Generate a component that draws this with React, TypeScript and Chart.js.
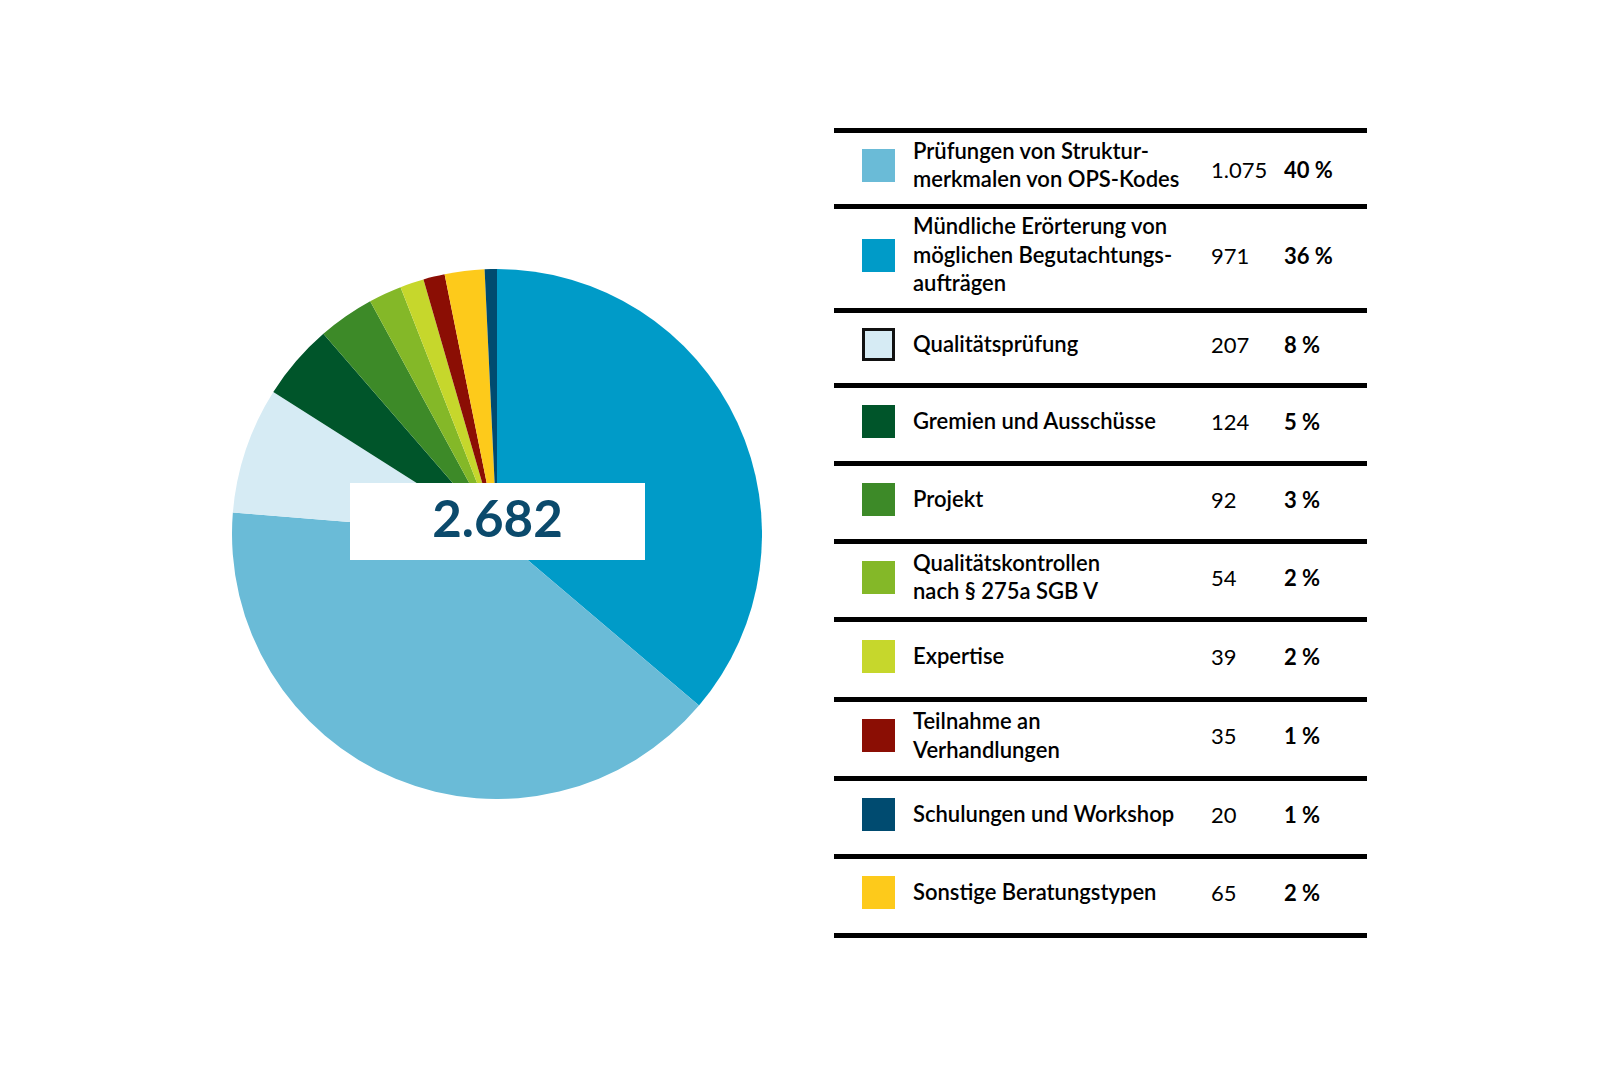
import React, { useEffect, useRef } from "react";
import { Chart, registerables } from "chart.js";

Chart.register(...registerables);

// ---- data (legend order) ----
const categories = [
  "Prüfungen von Struktur-\nmerkmalen von OPS-Kodes",
  "Mündliche Erörterung von\nmöglichen Begutachtungs-\naufträgen",
  "Qualitätsprüfung",
  "Gremien und Ausschüsse",
  "Projekt",
  "Qualitätskontrollen\nnach § 275a SGB V",
  "Expertise",
  "Teilnahme an\nVerhandlungen",
  "Schulungen und Workshop",
  "Sonstige Beratungstypen",
];
const values = [1075, 971, 207, 124, 92, 54, 39, 35, 20, 65];
const percents = [40, 36, 8, 5, 3, 2, 2, 1, 1, 2];
const colors = [
  "#6abbd7",
  "#009bc8",
  "#d6ebf4",
  "#00552a",
  "#3d8a28",
  "#84b828",
  "#c6d72c",
  "#8b0e04",
  "#004b70",
  "#fdca1b",
];
// order of slices in the pie (clockwise from 12 o'clock), as indices into the arrays above
const pieOrder = [1, 0, 2, 3, 4, 5, 6, 7, 9, 8];
const total = 2682;

// ---- layout ----
const ruleYs = [130.6, 206, 310, 385, 463, 541, 619, 699, 778, 856, 935];
const FONT = "Lato, 'Open Sans', sans-serif";

function fmt(n: number): string {
  const s = String(n);
  return s.replace(/\B(?=(\d{3})+(?!\d))/g, ".");
}

export default function App() {
  const canvasRef = useRef<HTMLCanvasElement | null>(null);

  useEffect(() => {
    const cv = canvasRef.current;
    if (!cv) return;
    const chart = new Chart(cv, {
      type: "pie",
      data: {
        labels: pieOrder.map((i) => categories[i]),
        datasets: [
          {
            data: pieOrder.map((i) => values[i]),
            backgroundColor: pieOrder.map((i) => colors[i]),
            borderWidth: 0,
            hoverOffset: 0,
          },
        ],
      },
      options: {
        responsive: false,
        animation: false,
        layout: { padding: 0 },
        plugins: {
          legend: { display: false },
          tooltip: { enabled: false },
        },
      },
    });
    return () => chart.destroy();
  }, []);

  return (
    <div
      style={{
        position: "absolute",
        left: 0,
        top: 0,
        width: 1600,
        height: 1067,
        background: "#fff",
        fontFamily: FONT,
        overflow: "hidden",
      }}
    >
      <canvas
        ref={canvasRef}
        width={530}
        height={530}
        style={{ position: "absolute", left: 232, top: 268.5, width: 530, height: 530 }}
      />
      {/* total box */}
      <div
        style={{
          position: "absolute",
          left: 350,
          top: 483,
          width: 295,
          height: 77,
          background: "#fff",
          display: "flex",
          alignItems: "center",
          justifyContent: "center",
          color: "#0b4a6c",
          fontWeight: 700,
          fontSize: 51,
          lineHeight: 1,
          paddingBottom: 8,
          boxSizing: "border-box",
        }}
      >
        {fmt(total)}
      </div>

      {/* legend rules */}
      {ruleYs.map((y, i) => (
        <div
          key={"r" + i}
          style={{
            position: "absolute",
            left: 834,
            width: 533,
            top: y - 2.5,
            height: 5,
            background: "#000",
          }}
        />
      ))}

      {/* legend rows */}
      {categories.map((c, i) => {
        const top = ruleYs[i] + 2.5;
        const bottom = ruleYs[i + 1] - 2.5;
        const h = bottom - top;
        const numShift = i === 0 ? 4 : 0;
        return (
          <div
            key={"row" + i}
            style={{
              position: "absolute",
              left: 834,
              top: top - 3,
              width: 533,
              height: h,
              color: "#000",
            }}
          >
            <div
              style={{
                position: "absolute",
                left: 28,
                top: h / 2 - 16.5,
                width: 33,
                height: 33,
                background: colors[i],
                boxSizing: "border-box",
                border: i === 2 ? "3px solid #111" : "none",
              }}
            />
            <div
              style={{
                position: "absolute",
                left: 79,
                top: 0,
                height: h,
                display: "flex",
                alignItems: "center",
                whiteSpace: "pre-line",
                fontSize: 22,
                lineHeight: "28.5px",
                fontWeight: 600,
              }}
            >
              {c}
            </div>
            <div
              style={{
                position: "absolute",
                left: 377,
                top: numShift,
                height: h,
                display: "flex",
                alignItems: "center",
                fontSize: 22,
                fontWeight: 400,
              }}
            >
              {fmt(values[i])}
            </div>
            <div
              style={{
                position: "absolute",
                left: 450,
                top: numShift,
                height: h,
                display: "flex",
                alignItems: "center",
                fontSize: 22,
                fontWeight: 700,
                whiteSpace: "pre",
              }}
            >
              {percents[i] + " %"}
            </div>
          </div>
        );
      })}
    </div>
  );
}
